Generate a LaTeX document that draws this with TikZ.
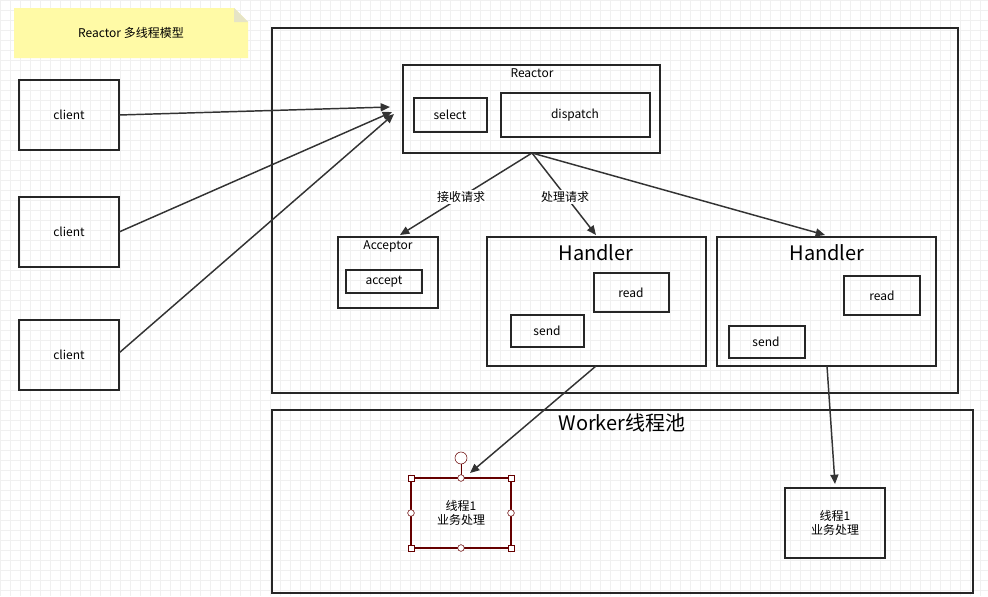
\documentclass[tikz,border=0pt]{standalone}
\usepackage{fontspec}
\setmainfont{Noto Sans CJK SC}
\usetikzlibrary{arrows.meta}
\begin{document}
\begin{tikzpicture}[x=0.75pt,y=-0.75pt,
 box/.style={draw=black!85,line width=0.9pt},
 t/.style={font=\fontsize{9}{11}\selectfont,align=center,inner sep=0},
 big/.style={font=\fontsize{15}{17}\selectfont,inner sep=0},
 arr/.style={draw=black!80,line width=1.1pt,-{Triangle[length=7pt,width=6pt]}},
 hd/.style={circle,draw=red!40!black,fill=white,inner sep=0,minimum size=5pt}]
\useasboundingbox (0,0) rectangle (988,596);
\fill[white] (0,0) rectangle (988,596);
\foreach \i in {0,10,...,980} \draw[black!6] (\i,0)--(\i,596);
\foreach \j in {0,10,...,590} \draw[black!6] (0,\j)--(988,\j);
% note
\fill[yellow!35] (14,8)--(234,8)--(248,22)--(248,58)--(14,58)--cycle;
\fill[yellow!55!black!25] (234,8)--(234,22)--(248,22)--cycle;
\node[t] (note) at (131,33) {Reactor 多线程模型};
% main box
\draw[box] (272,28) rectangle (958,393);
\draw[box] (403,65) rectangle (660,153);
\node[t] (rl) at (532,73) {Reactor};
\draw[box] (414,98) rectangle (487,132); \node[t] (sel) at (450,115) {select};
\draw[box] (501,93) rectangle (650,137); \node[t] (dis) at (575,115) {dispatch};
\coordinate (rb) at (532,153);
% clients
\foreach \y/\n in {80/c1,197/c2,320/c3}{
 \draw[box] (19,\y) rectangle (119,\y+70);
 \node[t] (\n) at (69,\y+35) {client};}
\coordinate (r1) at (390,107); \coordinate (r2) at (392,112); \coordinate (r3) at (394,114);
\draw[arr] (119,115) -- (r1);
\draw[arr] (119,232) -- (r2);
\draw[arr] (119,353) -- (r3);
% acceptor
\draw[box] (338,237) rectangle (438,308);
\node[t] (acc) at (388,246) {Acceptor};
\draw[box] (346,270) rectangle (422,293); \node[t] (ac) at (384,282) {accept};
% handlers
\draw[box] (487,237) rectangle (706,366);
\node[big] (h1) at (596,253) {Handler};
\draw[box] (594,273) rectangle (669,312); \node[t] (rd1) at (631,293) {read};
\draw[box] (511,315) rectangle (584,347); \node[t] (sd1) at (547,331) {send};
\draw[box] (717,237) rectangle (936,366);
\node[big] (h2) at (827,253) {Handler};
\draw[box] (844,276) rectangle (920,315); \node[t] (rd2) at (882,296) {read};
\draw[box] (729,326) rectangle (805,358); \node[t] (sd2) at (766,342) {send};
\coordinate (at) at (400,235); \coordinate (h1t) at (596,235); \coordinate (h2t) at (825,235);
\draw[arr] (rb) -- (at);
\draw[arr] (rb) -- (h1t);
\draw[arr] (rb) -- (h2t);
\node[t,fill=white,inner sep=1pt] (l1) at (461,197) {接收请求};
\node[t,fill=white,inner sep=1pt] (l2) at (565,197) {处理请求};
% worker
\draw[box] (272,410) rectangle (973,593);
\node[big] (w) at (622,423) {Worker线程池};
\draw[line width=1pt,draw=red!40!black] (411,478) rectangle (511,548);
\node[t] (w1) at (461,513) {线程1\\业务处理};
\draw[red!40!black] (461,478)--(461,462);
\foreach \p in {(411,478),(511,478),(411,548),(511,548)} \draw[red!40!black,fill=white] \p ++(-3,-3) rectangle ++(6,6);
\foreach \p in {(461,478),(411,513),(511,513),(461,548)} \node[hd] at \p {};
\node[hd,minimum size=9pt] at (461,458) {};
\draw[box] (785,488) rectangle (885,558);
\node[t] (w2) at (835,523) {线程1\\业务处理};
\draw[arr] (596,366) -- (470,473);
\draw[arr] (827,366) -- (835,484);
\end{tikzpicture}
\end{document}
